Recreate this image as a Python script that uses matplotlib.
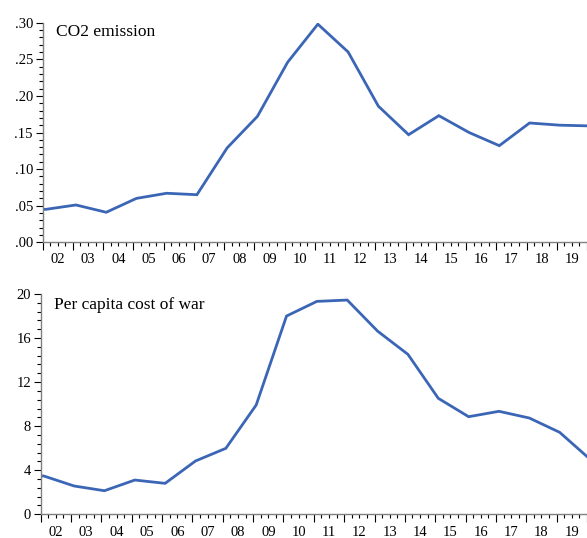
import matplotlib
matplotlib.use("Agg")
import matplotlib.pyplot as plt
from matplotlib.ticker import FixedLocator, MultipleLocator, FuncFormatter
import matplotlib.transforms as mtransforms
import numpy as np

plt.rcParams['font.family'] = ['Liberation Serif', 'DejaVu Serif']

years = list(range(2001, 2021))
co2 = [0.045, 0.045, 0.051, 0.041, 0.060, 0.067, 0.065, 0.129, 0.172, 0.246,
       0.298, 0.260, 0.186, 0.147, 0.173, 0.150, 0.132, 0.163, 0.160, 0.159]
war = [3.48, 3.48, 2.57, 2.14, 3.11, 2.81, 4.84, 5.99, 9.92, 18.0,
       19.33, 19.45, 16.63, 14.52, 10.53, 8.86, 9.35, 8.74, 7.44, 5.0]
year_labels = [f"{y % 100:02d}" for y in range(2002, 2020)]
titles = ["CO2 emission", "Per capita cost of war"]

W, H = 587, 538
fig = plt.figure(figsize=(W / 100, H / 100), dpi=100)

line_color = "#3b66b6"
spine_color = "#808080"

def setup(ax, data, ylim, ymajor, yminor, fmt, title, title_y, lab_off):
    x = np.array(years) + 0.1
    ax.plot(x, data, color=line_color, lw=2.0, solid_joinstyle='miter', clip_on=True)
    ax.set_xlim(2002, 2020)
    ax.set_ylim(*ylim)
    for s in ["top", "right"]:
        ax.spines[s].set_visible(False)
    for s in ["left", "bottom"]:
        ax.spines[s].set_color(spine_color)
        ax.spines[s].set_linewidth(1.0)
    ax.xaxis.set_major_locator(FixedLocator(list(range(2002, 2021))))
    ax.xaxis.set_minor_locator(FixedLocator([y + q / 4 for y in range(2002, 2020) for q in (1, 2, 3)]))
    ax.tick_params(axis='x', which='major', length=6, width=0.8, direction='out', labelbottom=False, color='black')
    ax.tick_params(axis='x', which='minor', length=3, width=0.8, direction='out', color='black')
    ax.yaxis.set_major_locator(MultipleLocator(ymajor))
    ax.yaxis.set_minor_locator(MultipleLocator(yminor))
    ax.yaxis.set_major_formatter(FuncFormatter(fmt))
    ax.tick_params(axis='y', which='major', length=5, width=0.8, direction='out', labelsize=10.5, pad=2, color='black')
    ax.tick_params(axis='y', which='minor', length=3, width=0.8, direction='out', color='black')
    trans = mtransforms.blended_transform_factory(ax.transData, ax.transAxes)
    for y, lab in zip(range(2002, 2020), year_labels):
        ax.text(y + 0.5, lab_off, lab, transform=trans, ha='center', va='top', fontsize=10.5)
    ax.text(0.025, title_y, title, transform=ax.transAxes, ha='left', va='top', fontsize=12.5)

ax1 = fig.add_axes([42.7 / W, 1 - 242.3 / H, 1 - 42.7 / W, (242.3 - 22.7) / H])
setup(ax1, co2, (0, 0.30), 0.05, 0.01, lambda v, p: f"{v:.2f}".lstrip('0'), titles[0], 0.995, -0.05)

ax2 = fig.add_axes([40.7 / W, 1 - 514.3 / H, 1 - 40.7 / W, (514.3 - 294) / H])
setup(ax2, war, (0, 20), 4, 0.8, lambda v, p: f"{v:.0f}", titles[1], 0.985, -0.055)

fig.savefig("out.png", dpi=100)
